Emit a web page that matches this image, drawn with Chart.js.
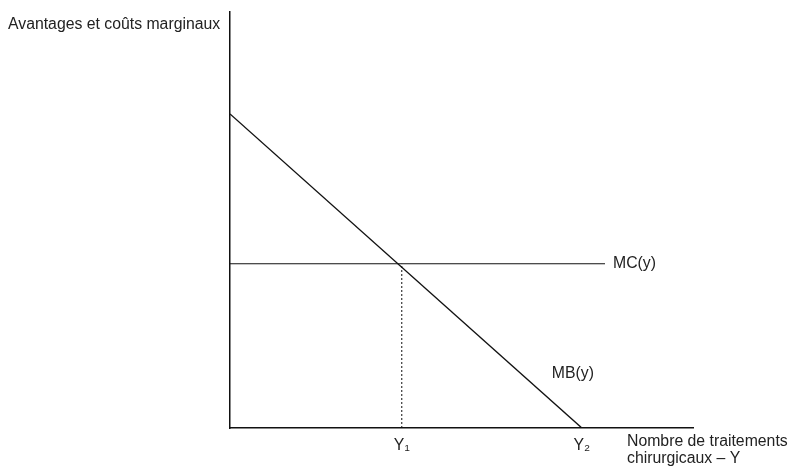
<!DOCTYPE html>
<html>
<head>
<meta charset="utf-8">
<script src="https://cdn.jsdelivr.net/npm/chart.js@4"></script>
<style>
  html, body { margin: 0; padding: 0; background: #fff; }
  #wrap { width: 791px; height: 469px; }
</style>
</head>
<body>
<div id="wrap"><canvas id="chart"></canvas></div>
<script>
// values in abstract units (x: quantity, y: marginal value)
const xMax = 10;
const yMax = 10;
const mbX = [0, 7.6];
const mbY = [7.55, 0];
const mcX = [0, 8.1];
const mcY = [3.95, 3.95];
const y1 = 3.71;
const y2 = 7.6;
const tickValues = [y1, y2];
const tickLabels = ['Y\u2081', 'Y\u2082'];

const FONT = '"Liberation Sans", Arial, sans-serif';

const toPoints = (xs, ys) => xs.map((x, i) => ({ x: x, y: ys[i] }));

const labelsPlugin = {
    id: 'labels',
    afterDraw(chart) {
        const ctx = chart.ctx;
        const xs = chart.scales.x;
        const ys = chart.scales.y;
        ctx.save();
        ctx.fillStyle = '#222';
        ctx.font = '15.8px ' + FONT;
        ctx.textBaseline = 'middle';
        ctx.textAlign = 'left';
        ctx.fillText('Avantages et coûts marginaux', 8, 25);
        ctx.fillText('MC(y)', xs.getPixelForValue(mcX[1]) + 8, ys.getPixelForValue(mcY[1]));
        ctx.fillText('MB(y)', xs.getPixelForValue(6.95), ys.getPixelForValue(1.3));
        ctx.fillText('Nombre de traitements', 627, 442);
        ctx.fillText('chirurgicaux \u2013 Y', 627, 459);
        ctx.restore();
    }
};

new Chart(document.getElementById('chart'), {
    type: 'scatter',
    data: {
        datasets: [
            {
                label: 'MB',
                data: toPoints(mbX, mbY),
                showLine: true,
                borderColor: '#111',
                borderWidth: 1.4,
                pointRadius: 0
            },
            {
                label: 'MC',
                data: toPoints(mcX, mcY),
                showLine: true,
                borderColor: '#111',
                borderWidth: 1.1,
                pointRadius: 0
            },
            {
                label: 'Y1',
                data: toPoints([y1, y1], [0, mcY[0]]),
                showLine: true,
                borderColor: '#111',
                borderWidth: 1,
                borderDash: [2, 2],
                pointRadius: 0
            }
        ]
    },
    options: {
        responsive: true,
        maintainAspectRatio: false,
        animation: false,
        layout: { padding: { left: 230, top: 12, right: 98, bottom: 0 } },
        plugins: {
            legend: { display: false },
            tooltip: { enabled: false }
        },
        scales: {
            x: {
                type: 'linear',
                min: 0,
                max: xMax,
                grid: { display: false, drawTicks: false },
                border: { color: '#111', width: 1.5 },
                afterBuildTicks: s => { s.ticks = tickValues.map(v => ({ value: v })); },
                afterFit: s => { s.height = 41; },
                ticks: {
                    padding: 8,
                    color: '#222',
                    font: { family: FONT, size: 15.8 },
                    callback: (v, i) => tickLabels[i]
                }
            },
            y: {
                type: 'linear',
                min: 0,
                max: yMax,
                grid: { display: false, drawTicks: false },
                border: { color: '#111', width: 1.5 },
                afterFit: s => { s.width = 0; },
                ticks: { display: false }
            }
        }
    },
    plugins: [labelsPlugin]
});
</script>
</body>
</html>
